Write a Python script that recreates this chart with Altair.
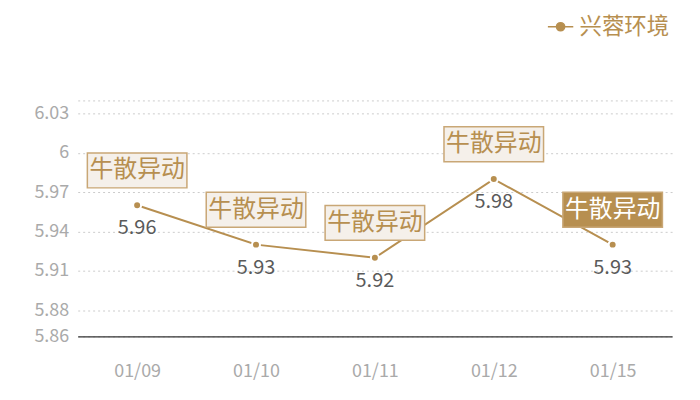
import altair as alt
import pandas as pd

dates = ["01/09", "01/10", "01/11", "01/12", "01/15"]
values = [5.96, 5.93, 5.92, 5.98, 5.93]
tags = ["牛散异动", "牛散异动", "牛散异动", "牛散异动", "牛散异动"]
highlight = [False, False, False, False, True]
series = "兴蓉环境"
y_ticks = [5.86, 5.88, 5.91, 5.94, 5.97, 6.0, 6.03, 6.04]

TAN = "#B78F50"
FONT = "Noto Sans CJK SC"

df = pd.DataFrame({"date": dates, "value": values, "tag": tags,
                   "hl": highlight, "series": [series] * len(dates)})

x = alt.X("date:N", sort=dates,
          scale=alt.Scale(type="point", padding=0.5),
          axis=alt.Axis(title=None, labelAngle=0, ticks=False, domain=True,
                        domainColor="#333333", domainWidth=1.2, grid=False,
                        labelColor="#AAAAAA", labelFontSize=18, labelFont=FONT,
                        labelPadding=26))
y = alt.Y("value:Q", scale=alt.Scale(domain=[5.86, 6.04], nice=False, zero=False),
          axis=alt.Axis(title=None, values=y_ticks, ticks=False, domain=False,
                        grid=True, gridColor="#CCCCCC", gridDash=[2, 3],
                        gridWidth=1, labelColor="#AAAAAA", labelFontSize=18,
                        labelFont=FONT, labelPadding=9, format="~g",
                        labelExpr="datum.value > 6.035 ? '' : datum.label"))

base = alt.Chart(df)

line = base.mark_line(strokeWidth=2).encode(
    x=x, y=y,
    color=alt.Color("series:N", scale=alt.Scale(range=[TAN]),
                    legend=alt.Legend(title=None, orient="none", legendX=471,
                                      legendY=-88,
                                      symbolType="M-1,0H-0.32M0.32,0H1M-0.32,0A0.32,0.32 0 1,1 0.32,0A0.32,0.32 0 1,1 -0.32,0Z",
                                      symbolSize=650, symbolStrokeWidth=1.6,
                                      symbolFillColor=TAN, symbolStrokeColor=TAN,
                                      labelFontSize=22.5, labelColor=TAN,
                                      labelFont=FONT, labelOffset=5)))

points = base.mark_circle(size=64, opacity=1, color=TAN, stroke="white",
                          strokeWidth=2).encode(x=x, y=y)

vals = base.mark_text(fontSize=20, color="#5A5A5A", font=FONT, dy=23).encode(
    x=x, y=y, text=alt.Text("value:Q", format=".2f"))

boxes = base.mark_rect(width=100, height=35, yOffset=-35, strokeWidth=1.5,
                       stroke="#C9A776").encode(
    x=x, y=y,
    fill=alt.condition("datum.hl", alt.value(TAN), alt.value("#F5F0EA")))

box_text = base.mark_text(fontSize=24, font=FONT, dy=-35).encode(
    x=x, y=y, text="tag:N",
    color=alt.condition("datum.hl", alt.value("#FFFFFF"), alt.value(TAN)))

chart = alt.layer(line, points, vals, boxes, box_text).properties(
    width=597, height=237,
    autosize=alt.AutoSizeParams(type="none"),
    padding={"left": 70, "top": 92, "right": 20, "bottom": 50},
).configure_view(stroke=None)

chart.save("out.html", embed_options={"renderer": "svg", "actions": False})
